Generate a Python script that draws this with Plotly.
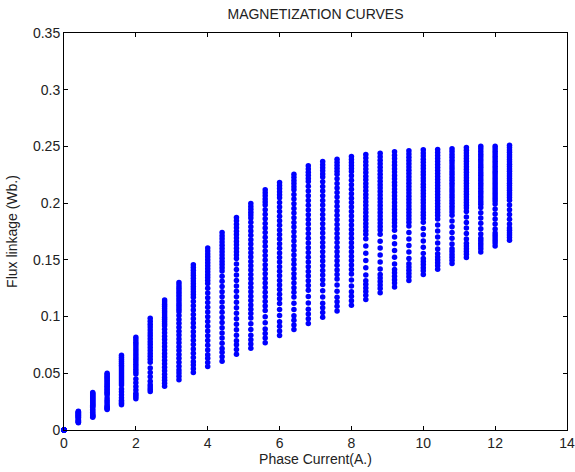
import plotly.graph_objects as go

# Phase current of each column (A)
CURRENT = [0.0, 0.4, 0.8, 1.2, 1.6, 2.0, 2.4, 2.8, 3.2, 3.6, 4.0, 4.4, 4.8, 5.2, 5.6, 6.0,
           6.4, 6.8, 7.2, 7.6, 8.0, 8.4, 8.8, 9.2, 9.6, 10.0, 10.4, 10.8, 11.2, 11.6, 12.0, 12.4]
# Aligned (maximum) flux linkage per column (Wb)
FLUX_MAX = [0.0, 0.0165, 0.033, 0.050, 0.0659, 0.0818, 0.0985, 0.1147, 0.130, 0.1456, 0.1605,
            0.1742, 0.1874, 0.1997, 0.2118, 0.2182, 0.2255, 0.2329, 0.2367, 0.2388, 0.2411,
            0.2429, 0.2440, 0.2453, 0.2462, 0.2470, 0.2472, 0.2480, 0.2490, 0.2502, 0.2502, 0.2511]
# Unaligned (minimum) flux linkage per column (Wb)
FLUX_MIN = [0.0, 0.0065, 0.0113, 0.0180, 0.0223, 0.0276, 0.0340, 0.0386, 0.0443, 0.0506, 0.0559,
            0.0606, 0.0667, 0.0720, 0.0770, 0.0833, 0.0885, 0.0940, 0.0995, 0.1050, 0.1100,
            0.1150, 0.1210, 0.1260, 0.1317, 0.1370, 0.1417, 0.1467, 0.1520, 0.1570, 0.1623, 0.1673]
# Which rotor-position profile each column follows
PROFILE_OF = ["low"] * 7 + ["midlow"] * 6 + ["mid"] * 8 + ["high"] * 11
# Relative depth of each rotor-position sample below the aligned value (0 = max, 1 = min)
PROFILES = {
    "low": [0.0, 0.04, 0.08, 0.12, 0.16, 0.20, 0.24, 0.28, 0.32, 0.36, 0.40, 0.44, 0.48, 0.52,
            0.56, 0.60, 0.68, 0.74, 0.80, 0.86, 0.91, 0.94, 0.97, 1.0],
    "midlow": [0.0, 0.025, 0.05, 0.075, 0.10, 0.125, 0.15, 0.175, 0.20, 0.225, 0.25, 0.275, 0.30,
               0.34, 0.38, 0.42, 0.46, 0.50, 0.54, 0.58, 0.62, 0.66, 0.70, 0.74, 0.78, 0.82,
               0.86, 0.90, 0.93, 0.965, 1.0],
    "mid": [0.0, 0.02, 0.04, 0.06, 0.08, 0.10, 0.13, 0.16, 0.19, 0.22, 0.25, 0.28, 0.31, 0.34,
            0.37, 0.40, 0.43, 0.46, 0.49, 0.52, 0.55, 0.58, 0.61, 0.64, 0.67, 0.70, 0.73, 0.76,
            0.79, 0.83, 0.87, 0.91, 0.94, 0.97, 1.0],
    "high": [0.0, 0.025, 0.05, 0.075, 0.10, 0.125, 0.15, 0.175, 0.20, 0.225, 0.25, 0.275, 0.30,
             0.325, 0.35, 0.375, 0.40, 0.425, 0.45, 0.475, 0.50, 0.525, 0.55, 0.58, 0.63, 0.68,
             0.73, 0.78, 0.83, 0.87, 0.895, 0.92, 0.945, 0.97, 1.0],
}

xs, ys = [], []
for i, cur in enumerate(CURRENT):
    hi, lo = FLUX_MAX[i], FLUX_MIN[i]
    for t in PROFILES[PROFILE_OF[i]]:
        xs.append(cur)
        ys.append(hi - t * (hi - lo))

FONT = "Liberation Sans, Arial, sans-serif"
fig = go.Figure()
fig.add_trace(go.Scatter(x=xs, y=ys, mode="markers",
                         marker=dict(color="#0000ff", size=5.5, line=dict(width=0)),
                         cliponaxis=False, showlegend=False, hoverinfo="skip"))

axis_common = dict(showline=True, linecolor="black", linewidth=1, mirror="ticks",
                   ticks="inside", ticklen=4, tickcolor="black", showgrid=False,
                   zeroline=False, automargin=False,
                   tickfont=dict(family=FONT, size=14, color="#222222"))
fig.update_layout(
    width=575, height=472,
    margin=dict(l=64, r=8, t=33, b=42),
    paper_bgcolor="white", plot_bgcolor="white",
    title=dict(text="MAGNETIZATION CURVES", x=0.5, xref="paper", xanchor="center",
               y=0.970, yanchor="middle",
               font=dict(family=FONT, size=14, color="#222222")),
    xaxis=dict(range=[0, 14], tickvals=[0, 2, 4, 6, 8, 10, 12, 14],
               title=dict(text="Phase Current(A.)", standoff=1,
                          font=dict(family=FONT, size=14, color="#222222")),
               **axis_common),
    yaxis=dict(range=[0, 0.35], tickvals=[0, 0.05, 0.1, 0.15, 0.2, 0.25, 0.3, 0.35],
               title=dict(text="Flux linkage (Wb.)", standoff=12,
                          font=dict(family=FONT, size=14, color="#222222")),
               **axis_common),
)
# Remove the browser's default 8px page margin so the figure fills the window exactly.
fig.write_html("out.html", config={"displayModeBar": False, "staticPlot": True},
               post_script="document.body.style.margin='0';document.body.style.overflow='hidden';")
